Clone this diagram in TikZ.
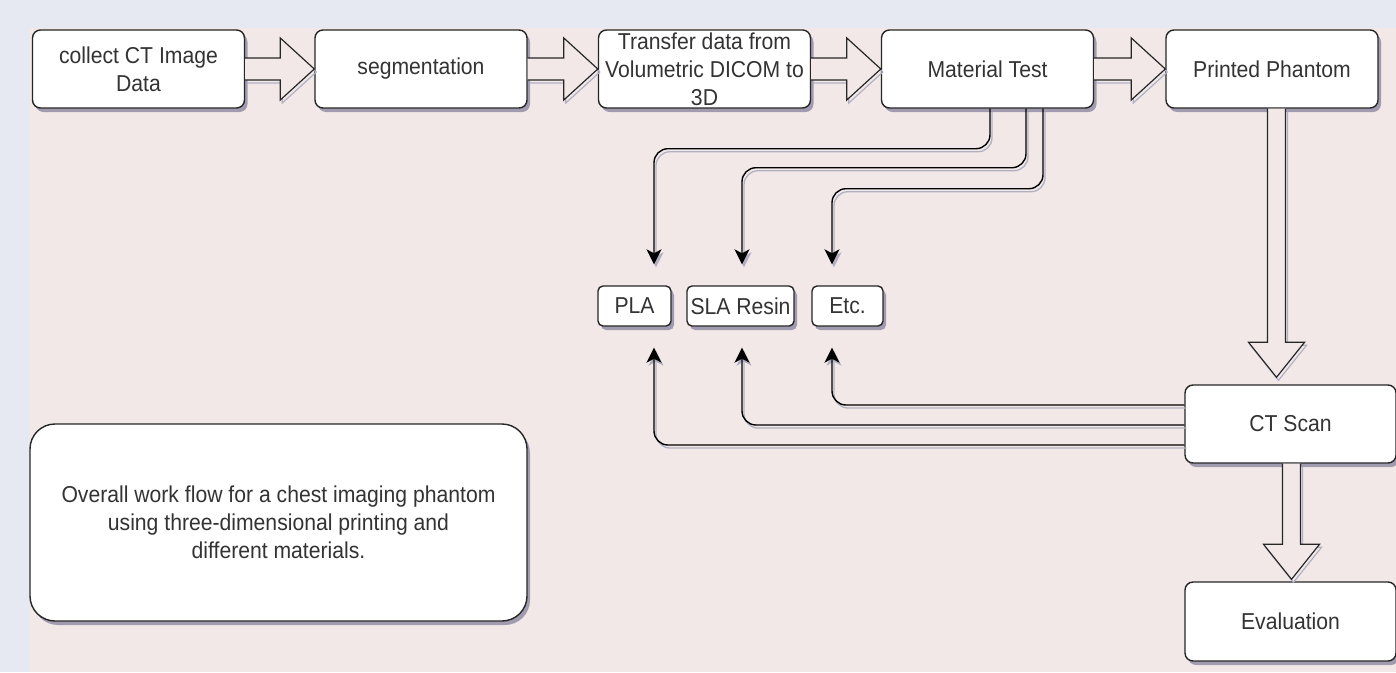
\documentclass[tikz,border=0pt]{standalone}
\usepackage{fontspec}
\setmainfont[FakeStretch=0.92]{Liberation Sans}
\usetikzlibrary{calc,shadows,arrows.meta}
\definecolor{outerbg}{RGB}{230,233,241}
\definecolor{pinkbg}{RGB}{242,232,232}
\definecolor{txt}{RGB}{51,51,51}
\definecolor{shd}{RGB}{80,80,120}
\newcommand\harr[2]{%
  \draw[blk] let \p1=(#1.east), \p2=(#2.west) in
    (\x1,\y1+11pt) -- (\x2-34pt,\y1+11pt) -- (\x2-34pt,\y1+31pt) -- (\x2,\y1)
    -- (\x2-34pt,\y1-31pt) -- (\x2-34pt,\y1-11pt) -- (\x1,\y1-11pt);}
\newcommand\varr[4]{% from, to, x offset (pt), gap (pt)
  \draw[blk] let \p1=(#1.south), \p2=(#2.north) in
    (\x2+#3-9pt,\y1) -- (\x2+#3-9pt,\y2+#4+35pt) -- (\x2+#3-28pt,\y2+#4+35pt)
    -- (\x2+#3,\y2+#4) -- (\x2+#3+28pt,\y2+#4+35pt) -- (\x2+#3+9pt,\y2+#4+35pt)
    -- (\x2+#3+9pt,\y1);}
\begin{document}
\begin{tikzpicture}[x=1pt,y=-1pt,
  box/.style={draw=black!85, line width=1.4pt, fill=white, rounded corners=8pt,
    minimum width=212pt, minimum height=78pt, align=center, text=txt,
    font=\fontsize{23}{28}\selectfont, inner sep=0pt,
    drop shadow={shadow xshift=3pt, shadow yshift=-4pt, fill=shd, opacity=0.5}},
  matbox/.style={box, minimum height=40pt, rounded corners=5pt},
  blk/.style={draw=black!85, line width=1.2pt, fill=pinkbg, line join=miter,
    preaction={draw=shd!45, line width=1.2pt, transform canvas={shift={(2pt,-3pt)}}}},
  conn/.style={draw=black, line width=1.4pt, rounded corners=14pt,
    -{Stealth[length=15pt,width=15pt,inset=4pt]},
    preaction={draw=shd!45, line width=1.3pt, transform canvas={shift={(2pt,-3pt)}}}}
]
\useasboundingbox (0,0) rectangle (1396,672);
\fill[outerbg] (0,0) rectangle (1396,672);
\fill[pinkbg] (30,28) rectangle (1396,672);

\node[box] (A) at (138.5,69) {collect CT Image\\Data};
\node[box] (B) at (421,69) {segmentation};
\node[box] (C) at (704.5,69) {Transfer data from\\Volumetric DICOM to\\3D};
\node[box] (D) at (987.5,69) {Material Test};
\node[box] (E) at (1272,69) {Printed Phantom};
\node[matbox, minimum width=73pt] (PLA) at (634.5,306) {PLA};
\node[matbox, minimum width=107pt] (SLA) at (740.5,306) {SLA Resin};
\node[matbox, minimum width=71pt] (ETC) at (847.5,306) {Etc.};
\node[box, minimum width=211pt] (CT) at (1290.5,424) {CT Scan};
\node[box, minimum width=211pt, minimum height=79pt] (EV) at (1290.5,621.5) {Evaluation};
\node[box, minimum width=497pt, minimum height=197pt, rounded corners=25pt] (NOTE) at (278.5,522.5)
  {Overall work flow for a chest imaging phantom\\using three-dimensional printing and\\different materials.};

\harr{A}{B}
\harr{B}{C}
\harr{C}{D}
\harr{D}{E}
\varr{E}{CT}{-14pt}{7pt}
\varr{CT}{EV}{1pt}{2pt}

\draw[conn] ($(D.south)+(2.5,0)$) -- ++(0,40) -| ($(PLA.north)+(19.5,-21)$);
\draw[conn] ($(D.south)+(38.5,0)$) -- ++(0,59) -| ($(SLA.north)+(1.5,-21)$);
\draw[conn] ($(D.south)+(55.5,0)$) -- ++(0,80) -| ($(ETC.north)+(-15.5,-21)$);

\draw[conn] ($(CT.west)+(0,-19)$) -| ($(ETC.south)+(-15.5,21)$);
\draw[conn] ($(CT.west)+(0,1)$) -| ($(SLA.south)+(1.5,21)$);
\draw[conn] ($(CT.west)+(0,21)$) -| ($(PLA.south)+(19.5,21)$);
\end{tikzpicture}
\end{document}
